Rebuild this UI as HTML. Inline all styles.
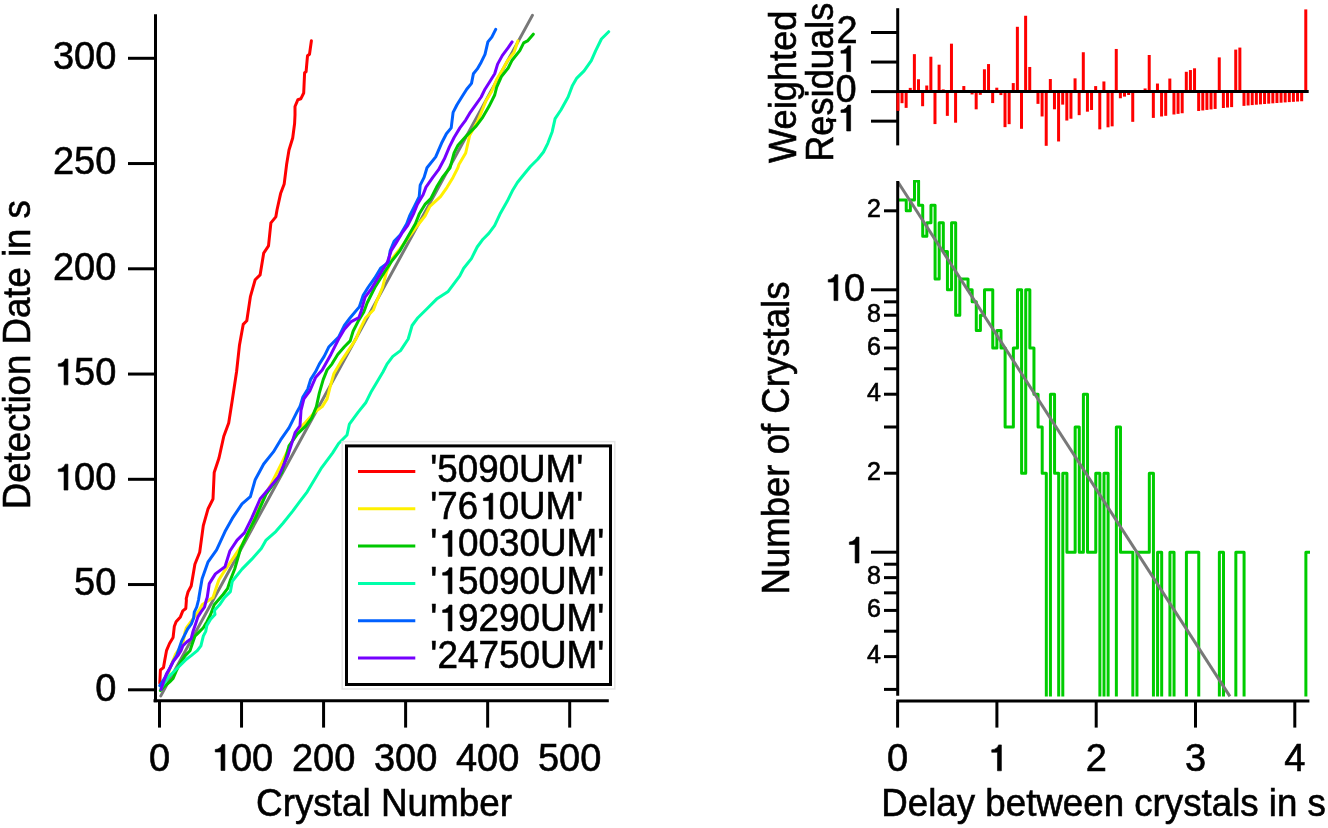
<!DOCTYPE html>
<html><head><meta charset="utf-8"><style>html,body{margin:0;padding:0;background:#fff;overflow:hidden}svg{display:block;will-change:transform} text{stroke:#000;stroke-width:0.6px} .h1{fill:none;stroke:none} .g1{stroke:#000;stroke-width:0.6px}</style></head>
<body><svg width="1328" height="828" style="font-family:'Liberation Sans',sans-serif" fill="#000">
<polyline points="160.8,695.9 532.4,15.4" fill="none" stroke="#787878" stroke-width="3" stroke-linejoin="round" stroke-linecap="round"/>
<polyline points="159.8,683.3 160.4,670.0 163.5,667.6 164.7,660.4 166.5,650.7 169.5,643.5 173.1,637.4 174.3,626.6 176.1,621.7 180.4,616.9 182.8,610.9 185.8,608.5 186.4,600.0 186.2,598.8 188.0,592.0 191.2,586.0 194.9,564.3 199.7,552.2 203.3,525.6 208.1,508.7 213.0,499.0 214.2,472.5 219.0,458.0 223.8,436.2 228.7,422.9 232.3,400.0 236.6,371.5 239.5,344.9 243.2,324.4 246.8,320.8 250.4,296.6 255.2,279.7 260.1,274.9 263.7,253.1 268.5,245.9 270.9,222.9 275.8,216.9 277.0,210.0 280.6,193.6 284.2,183.9 286.6,164.6 289.0,150.0 292.7,138.0 294.6,123.5 295.0,115.0 295.0,106.5 297.9,99.7 300.8,98.8 303.7,93.0 304.6,72.7 306.1,71.7 307.5,55.8 309.5,54.3 311.4,40.8" fill="none" stroke="#ff0000" stroke-width="3" stroke-linejoin="round" stroke-linecap="round"/>
<polyline points="162.2,684.5 167.1,677.3 170.7,666.4 175.5,654.3 182.8,643.5 185.2,631.4 186.4,627.8 192.0,620.0 199.7,609.7 202.1,604.8 209.3,600.0 213.0,597.4 215.9,588.7 218.8,580.0 222.6,573.9 232.3,559.4 242.0,544.9 251.6,525.6 261.3,501.4 271.0,484.5 283.0,460.4 297.5,430.2 300.0,427.9 305.8,422.1 314.5,412.4 322.2,406.6 327.1,398.9 330.0,387.3 333.8,373.8 340.6,362.2 348.3,350.6 356.0,339.0 359.9,329.3 365.7,317.7 373.4,310.0 376.7,301.1 382.5,287.5 386.4,272.1 392.2,258.6 399.9,248.9 408.6,237.3 417.3,225.7 425.0,216.0 429.9,206.4 440.5,196.7 447.2,187.1 453.0,177.4 457.9,167.7 458.9,164.6 465.7,153.0 469.6,135.6 477.3,122.1 482.1,110.5 486.0,100.8 491.8,91.2 496.6,79.6 502.4,69.9 507.2,61.2 514.0,52.5 517.9,40.9" fill="none" stroke="#fff000" stroke-width="3" stroke-linejoin="round" stroke-linecap="round"/>
<polyline points="160.4,690.6 163.5,687.0 169.5,682.1 173.1,678.5 176.7,670.0 180.4,662.8 185.2,655.6 190.0,650.7 192.4,643.5 194.9,636.2 198.5,632.6 203.3,627.8 206.9,621.7 210.6,614.5 214.2,604.8 223.1,594.5 227.5,588.7 230.4,580.0 234.7,569.0 240.7,548.2 249.2,530.4 255.2,518.4 266.1,494.2 281.8,472.5 289.0,445.9 297.5,433.8 305.8,425.9 311.6,418.2 316.4,406.6 319.3,393.1 323.2,379.6 327.1,369.9 331.9,364.1 337.7,354.4 344.4,346.7 350.2,340.9 353.1,331.3 358.0,321.6 363.8,311.9 367.1,303.0 374.8,287.5 384.4,272.1 392.2,260.5 399.9,250.8 407.6,237.3 415.4,223.8 419.2,214.1 425.0,204.4 430.8,198.6 436.6,187.1 442.4,177.4 450.1,167.7 454.1,152.9 458.0,145.3 466.7,135.6 476.3,125.9 482.1,118.2 488.9,106.6 494.7,95.0 496.6,87.3 501.4,76.7 508.2,68.0 512.1,60.2 519.8,50.6 523.7,42.9 527.5,40.9 533.3,34.2" fill="none" stroke="#00c800" stroke-width="3" stroke-linejoin="round" stroke-linecap="round"/>
<polyline points="161.0,688.2 164.7,682.1 169.5,676.1 175.5,670.0 181.6,664.0 186.4,659.2 191.2,655.6 197.3,650.7 200.9,645.9 203.3,636.2 205.7,631.4 206.9,625.4 210.6,619.3 215.0,614.5 214.4,610.4 220.2,603.9 224.6,597.4 230.4,591.6 232.3,581.2 242.0,569.1 251.6,559.4 261.3,548.6 266.1,540.1 275.8,531.6 283.0,523.2 292.7,511.1 299.9,501.4 307.2,491.8 314.4,479.7 321.7,467.6 332.5,453.1 338.6,443.5 347.0,435.0 349.4,424.2 358.0,412.4 365.7,402.8 371.5,391.2 377.3,381.5 383.1,371.8 387.0,364.1 392.8,356.4 400.5,350.6 408.2,339.0 412.1,325.5 417.9,317.7 427.0,308.8 436.6,299.1 448.2,291.4 454.0,283.7 459.8,275.9 463.7,268.2 471.4,258.6 477.2,247.0 483.0,239.2 488.8,233.4 494.6,225.7 500.0,214.1 507.2,201.3 513.0,189.7 517.4,182.5 523.2,175.2 530.4,166.5 537.7,159.3 543.5,152.0 547.8,143.3 552.2,131.7 555.1,118.7 560.9,110.0 568.1,97.0 572.5,85.4 576.8,78.1 584.1,70.9 591.3,60.7 595.7,50.6 601.4,39.0 608.7,31.7" fill="none" stroke="#00ffaa" stroke-width="3" stroke-linejoin="round" stroke-linecap="round"/>
<polyline points="159.8,685.7 162.2,682.1 165.9,676.1 169.5,668.8 173.1,661.6 176.7,655.6 179.2,648.3 181.6,641.1 185.2,633.8 187.6,629.0 191.2,624.2 193.6,618.1 194.3,612.1 196.7,607.2 198.5,600.0 199.9,591.6 202.1,578.7 208.1,561.8 216.6,549.8 225.0,531.6 232.3,518.4 242.0,503.9 250.4,496.6 255.2,479.7 263.7,464.0 273.4,451.9 280.6,439.9 289.0,427.8 297.5,410.9 300.0,406.6 302.9,397.0 307.7,389.2 310.6,379.6 315.5,371.8 319.3,364.1 324.2,356.4 329.0,346.7 338.6,337.1 344.4,325.5 350.2,317.7 359.3,306.9 363.2,295.3 368.0,287.5 374.8,277.9 380.6,268.2 388.3,262.4 390.2,250.8 394.1,241.2 399.9,235.4 406.7,223.8 409.6,216.0 414.4,206.4 419.2,196.7 420.2,185.1 424.1,177.4 427.0,167.7 435.7,156.9 441.5,143.3 446.4,133.7 451.2,127.9 453.1,112.4 457.0,104.7 461.8,97.0 466.7,89.2 471.5,83.4 473.4,73.8 477.3,68.9 481.2,62.2 485.0,54.4 487.9,41.9 491.8,37.1 495.7,29.3" fill="none" stroke="#0060ff" stroke-width="3" stroke-linejoin="round" stroke-linecap="round"/>
<polyline points="161.0,689.4 163.5,682.1 166.5,673.7 169.5,668.8 173.1,661.6 177.9,655.6 181.0,650.7 182.8,645.9 186.4,642.3 191.2,638.6 193.0,631.4 195.5,624.2 197.9,616.9 200.9,612.1 204.5,607.2 206.3,600.0 207.2,597.4 209.3,583.6 215.4,573.9 225.0,566.7 229.9,551.0 237.1,540.1 244.4,532.9 251.6,518.4 260.1,499.0 267.3,490.6 278.2,477.3 287.9,455.6 295.1,432.6 300.0,425.9 301.0,410.5 303.9,398.9 309.7,391.2 315.5,377.6 322.2,369.9 330.9,354.4 338.6,339.0 344.4,329.3 351.2,321.6 358.9,317.7 361.3,310.7 365.1,297.2 370.9,289.5 376.7,279.8 382.5,270.1 387.3,262.4 391.2,250.8 396.0,243.1 401.8,233.4 407.6,225.7 413.4,214.1 417.3,204.4 423.1,194.8 426.0,187.1 432.8,177.4 438.6,169.7 444.4,158.8 449.3,147.2 454.1,137.5 459.9,127.9 465.7,120.1 469.6,113.4 474.4,106.6 481.2,97.0 485.0,89.2 489.9,81.5 494.7,73.8 497.6,64.1 502.4,55.4 508.2,47.7 512.1,41.9" fill="none" stroke="#7500ff" stroke-width="3" stroke-linejoin="round" stroke-linecap="round"/>
<line x1="155.50" y1="14.20" x2="155.50" y2="702.30" stroke="#000" stroke-width="3" stroke-linecap="butt"/>
<line x1="153.50" y1="700.80" x2="608.80" y2="700.80" stroke="#000" stroke-width="3" stroke-linecap="butt"/>
<line x1="128.00" y1="689.80" x2="155.00" y2="689.80" stroke="#000" stroke-width="3" stroke-linecap="butt"/>
<text x="116.30" y="700.60" font-size="38" text-anchor="end">0</text>
<line x1="128.00" y1="584.55" x2="155.00" y2="584.55" stroke="#000" stroke-width="3" stroke-linecap="butt"/>
<text x="116.30" y="595.35" font-size="38" text-anchor="end">50</text>
<line x1="128.00" y1="479.30" x2="155.00" y2="479.30" stroke="#000" stroke-width="3" stroke-linecap="butt"/>
<text x="116.30" y="490.10" font-size="38" text-anchor="end"><tspan class="h1">1</tspan>00</text>
<line x1="128.00" y1="374.05" x2="155.00" y2="374.05" stroke="#000" stroke-width="3" stroke-linecap="butt"/>
<text x="116.30" y="384.85" font-size="38" text-anchor="end"><tspan class="h1">1</tspan>50</text>
<line x1="128.00" y1="268.80" x2="155.00" y2="268.80" stroke="#000" stroke-width="3" stroke-linecap="butt"/>
<text x="116.30" y="279.60" font-size="38" text-anchor="end">200</text>
<line x1="128.00" y1="163.55" x2="155.00" y2="163.55" stroke="#000" stroke-width="3" stroke-linecap="butt"/>
<text x="116.30" y="174.35" font-size="38" text-anchor="end">250</text>
<line x1="128.00" y1="58.30" x2="155.00" y2="58.30" stroke="#000" stroke-width="3" stroke-linecap="butt"/>
<text x="116.30" y="69.10" font-size="38" text-anchor="end">300</text>
<line x1="159.50" y1="702.00" x2="159.50" y2="727.60" stroke="#000" stroke-width="3" stroke-linecap="butt"/>
<text x="159.50" y="770.50" font-size="38" text-anchor="middle">0</text>
<line x1="241.54" y1="702.00" x2="241.54" y2="727.60" stroke="#000" stroke-width="3" stroke-linecap="butt"/>
<text x="241.54" y="770.50" font-size="38" text-anchor="middle"><tspan class="h1">1</tspan>00</text>
<line x1="323.58" y1="702.00" x2="323.58" y2="727.60" stroke="#000" stroke-width="3" stroke-linecap="butt"/>
<text x="323.58" y="770.50" font-size="38" text-anchor="middle">200</text>
<line x1="405.62" y1="702.00" x2="405.62" y2="727.60" stroke="#000" stroke-width="3" stroke-linecap="butt"/>
<text x="405.62" y="770.50" font-size="38" text-anchor="middle">300</text>
<line x1="487.66" y1="702.00" x2="487.66" y2="727.60" stroke="#000" stroke-width="3" stroke-linecap="butt"/>
<text x="487.66" y="770.50" font-size="38" text-anchor="middle">400</text>
<line x1="569.70" y1="702.00" x2="569.70" y2="727.60" stroke="#000" stroke-width="3" stroke-linecap="butt"/>
<text x="569.70" y="770.50" font-size="38" text-anchor="middle">500</text>
<rect x="342.2" y="441.6" width="272.6" height="247.4" fill="none" stroke="#e6e6e6" stroke-width="1.5"/>
<rect x="346.5" y="445.9" width="264" height="238.6" fill="#fff" stroke="#000" stroke-width="3"/>
<line x1="358.00" y1="471.50" x2="415.30" y2="471.50" stroke="#ff0000" stroke-width="3" stroke-linecap="butt"/>
<line x1="358.00" y1="508.80" x2="415.30" y2="508.80" stroke="#fff000" stroke-width="3" stroke-linecap="butt"/>
<line x1="358.00" y1="546.10" x2="415.30" y2="546.10" stroke="#00c800" stroke-width="3" stroke-linecap="butt"/>
<line x1="358.00" y1="583.40" x2="415.30" y2="583.40" stroke="#00ffaa" stroke-width="3" stroke-linecap="butt"/>
<line x1="358.00" y1="620.70" x2="415.30" y2="620.70" stroke="#0060ff" stroke-width="3" stroke-linecap="butt"/>
<line x1="358.00" y1="658.00" x2="415.30" y2="658.00" stroke="#7500ff" stroke-width="3" stroke-linecap="butt"/>
<line x1="897.70" y1="8.20" x2="897.70" y2="145.40" stroke="#000" stroke-width="3" stroke-linecap="butt"/>
<rect x="896.40" y="91.60" width="3" height="19.26" fill="#ff0000"/>
<rect x="900.52" y="91.60" width="3" height="11.59" fill="#ff0000"/>
<rect x="904.64" y="91.60" width="3" height="16.27" fill="#ff0000"/>
<rect x="908.76" y="87.88" width="3" height="3.72" fill="#ff0000"/>
<rect x="912.88" y="54.14" width="3" height="37.46" fill="#ff0000"/>
<rect x="917.00" y="79.26" width="3" height="12.34" fill="#ff0000"/>
<rect x="921.12" y="91.60" width="3" height="14.62" fill="#ff0000"/>
<rect x="925.24" y="85.51" width="3" height="6.09" fill="#ff0000"/>
<rect x="929.36" y="56.72" width="3" height="34.88" fill="#ff0000"/>
<rect x="933.48" y="91.60" width="3" height="32.48" fill="#ff0000"/>
<rect x="937.60" y="64.69" width="3" height="26.91" fill="#ff0000"/>
<rect x="941.72" y="89.39" width="3" height="2.21" fill="#ff0000"/>
<rect x="945.84" y="91.60" width="3" height="24.26" fill="#ff0000"/>
<rect x="949.96" y="43.67" width="3" height="47.93" fill="#ff0000"/>
<rect x="954.08" y="91.60" width="3" height="31.10" fill="#ff0000"/>
<rect x="958.20" y="91.45" width="3" height="0.15" fill="#ff0000"/>
<rect x="962.32" y="86.04" width="3" height="5.56" fill="#ff0000"/>
<rect x="966.44" y="89.98" width="3" height="1.62" fill="#ff0000"/>
<rect x="970.56" y="91.60" width="3" height="2.84" fill="#ff0000"/>
<rect x="974.68" y="91.60" width="3" height="17.73" fill="#ff0000"/>
<rect x="978.80" y="91.60" width="3" height="3.22" fill="#ff0000"/>
<rect x="982.92" y="69.28" width="3" height="22.32" fill="#ff0000"/>
<rect x="987.04" y="64.07" width="3" height="27.53" fill="#ff0000"/>
<rect x="991.16" y="91.60" width="3" height="11.48" fill="#ff0000"/>
<rect x="995.28" y="87.70" width="3" height="3.90" fill="#ff0000"/>
<rect x="999.40" y="91.60" width="3" height="3.47" fill="#ff0000"/>
<rect x="1003.52" y="91.60" width="3" height="35.54" fill="#ff0000"/>
<rect x="1007.64" y="91.60" width="3" height="32.56" fill="#ff0000"/>
<rect x="1011.76" y="83.07" width="3" height="8.53" fill="#ff0000"/>
<rect x="1015.88" y="26.80" width="3" height="64.80" fill="#ff0000"/>
<rect x="1020.00" y="91.60" width="3" height="37.19" fill="#ff0000"/>
<rect x="1024.12" y="15.76" width="3" height="75.84" fill="#ff0000"/>
<rect x="1028.24" y="66.97" width="3" height="24.63" fill="#ff0000"/>
<rect x="1032.36" y="91.60" width="3" height="0.51" fill="#ff0000"/>
<rect x="1036.48" y="91.60" width="3" height="12.26" fill="#ff0000"/>
<rect x="1040.60" y="91.60" width="3" height="24.86" fill="#ff0000"/>
<rect x="1044.72" y="91.60" width="3" height="54.21" fill="#ff0000"/>
<rect x="1048.84" y="79.03" width="3" height="12.57" fill="#ff0000"/>
<rect x="1052.96" y="91.60" width="3" height="17.71" fill="#ff0000"/>
<rect x="1057.08" y="91.60" width="3" height="49.87" fill="#ff0000"/>
<rect x="1061.20" y="91.60" width="3" height="13.02" fill="#ff0000"/>
<rect x="1065.32" y="91.60" width="3" height="28.93" fill="#ff0000"/>
<rect x="1069.44" y="91.60" width="3" height="27.12" fill="#ff0000"/>
<rect x="1073.56" y="78.35" width="3" height="13.25" fill="#ff0000"/>
<rect x="1077.68" y="91.60" width="3" height="23.56" fill="#ff0000"/>
<rect x="1081.80" y="52.24" width="3" height="39.36" fill="#ff0000"/>
<rect x="1085.92" y="91.60" width="3" height="20.08" fill="#ff0000"/>
<rect x="1090.04" y="91.60" width="3" height="18.36" fill="#ff0000"/>
<rect x="1094.16" y="86.09" width="3" height="5.51" fill="#ff0000"/>
<rect x="1098.28" y="91.60" width="3" height="37.76" fill="#ff0000"/>
<rect x="1102.40" y="81.46" width="3" height="10.14" fill="#ff0000"/>
<rect x="1106.52" y="91.60" width="3" height="35.72" fill="#ff0000"/>
<rect x="1110.64" y="91.60" width="3" height="34.74" fill="#ff0000"/>
<rect x="1114.76" y="48.96" width="3" height="42.64" fill="#ff0000"/>
<rect x="1118.88" y="91.60" width="3" height="6.67" fill="#ff0000"/>
<rect x="1123.00" y="91.60" width="3" height="5.02" fill="#ff0000"/>
<rect x="1127.12" y="91.60" width="3" height="3.39" fill="#ff0000"/>
<rect x="1131.24" y="91.60" width="3" height="30.23" fill="#ff0000"/>
<rect x="1135.36" y="91.60" width="3" height="0.12" fill="#ff0000"/>
<rect x="1139.48" y="90.09" width="3" height="1.51" fill="#ff0000"/>
<rect x="1143.60" y="88.46" width="3" height="3.14" fill="#ff0000"/>
<rect x="1147.72" y="55.00" width="3" height="36.60" fill="#ff0000"/>
<rect x="1151.84" y="91.60" width="3" height="26.30" fill="#ff0000"/>
<rect x="1155.96" y="83.54" width="3" height="8.06" fill="#ff0000"/>
<rect x="1160.08" y="91.60" width="3" height="24.88" fill="#ff0000"/>
<rect x="1164.20" y="91.60" width="3" height="24.20" fill="#ff0000"/>
<rect x="1168.32" y="78.56" width="3" height="13.04" fill="#ff0000"/>
<rect x="1172.44" y="91.60" width="3" height="22.89" fill="#ff0000"/>
<rect x="1176.56" y="91.60" width="3" height="22.26" fill="#ff0000"/>
<rect x="1180.68" y="91.60" width="3" height="21.65" fill="#ff0000"/>
<rect x="1184.80" y="71.78" width="3" height="19.82" fill="#ff0000"/>
<rect x="1188.92" y="70.05" width="3" height="21.55" fill="#ff0000"/>
<rect x="1193.04" y="68.30" width="3" height="23.30" fill="#ff0000"/>
<rect x="1197.16" y="91.60" width="3" height="19.37" fill="#ff0000"/>
<rect x="1201.28" y="91.60" width="3" height="18.84" fill="#ff0000"/>
<rect x="1205.40" y="91.60" width="3" height="18.32" fill="#ff0000"/>
<rect x="1209.52" y="91.60" width="3" height="17.82" fill="#ff0000"/>
<rect x="1213.64" y="91.60" width="3" height="17.33" fill="#ff0000"/>
<rect x="1217.76" y="57.39" width="3" height="34.21" fill="#ff0000"/>
<rect x="1221.88" y="91.60" width="3" height="16.39" fill="#ff0000"/>
<rect x="1226.00" y="91.60" width="3" height="15.94" fill="#ff0000"/>
<rect x="1230.12" y="91.60" width="3" height="15.51" fill="#ff0000"/>
<rect x="1234.24" y="49.60" width="3" height="42.00" fill="#ff0000"/>
<rect x="1238.36" y="47.58" width="3" height="44.02" fill="#ff0000"/>
<rect x="1242.48" y="91.60" width="3" height="14.26" fill="#ff0000"/>
<rect x="1246.60" y="91.60" width="3" height="13.87" fill="#ff0000"/>
<rect x="1250.72" y="91.60" width="3" height="13.49" fill="#ff0000"/>
<rect x="1254.84" y="91.60" width="3" height="13.12" fill="#ff0000"/>
<rect x="1258.96" y="91.60" width="3" height="12.76" fill="#ff0000"/>
<rect x="1263.08" y="91.60" width="3" height="12.41" fill="#ff0000"/>
<rect x="1267.20" y="91.60" width="3" height="12.07" fill="#ff0000"/>
<rect x="1271.32" y="91.60" width="3" height="11.74" fill="#ff0000"/>
<rect x="1275.44" y="91.60" width="3" height="11.42" fill="#ff0000"/>
<rect x="1279.56" y="91.60" width="3" height="11.10" fill="#ff0000"/>
<rect x="1283.68" y="91.60" width="3" height="10.80" fill="#ff0000"/>
<rect x="1287.80" y="91.60" width="3" height="10.50" fill="#ff0000"/>
<rect x="1291.92" y="91.60" width="3" height="10.22" fill="#ff0000"/>
<rect x="1296.04" y="91.60" width="3" height="9.94" fill="#ff0000"/>
<rect x="1300.16" y="91.60" width="3" height="9.66" fill="#ff0000"/>
<rect x="1304.28" y="9.41" width="3" height="82.19" fill="#ff0000"/>
<line x1="871.00" y1="32.50" x2="897.00" y2="32.50" stroke="#000" stroke-width="3" stroke-linecap="butt"/>
<line x1="871.00" y1="62.05" x2="897.00" y2="62.05" stroke="#000" stroke-width="3" stroke-linecap="butt"/>
<line x1="871.00" y1="91.60" x2="897.00" y2="91.60" stroke="#000" stroke-width="3" stroke-linecap="butt"/>
<line x1="871.00" y1="121.15" x2="897.00" y2="121.15" stroke="#000" stroke-width="3" stroke-linecap="butt"/>
<text x="857.60" y="42.50" font-size="38" text-anchor="end">2</text>
<text x="856.70" y="71.70" font-size="38" text-anchor="end"><tspan class="h1">1</tspan></text>
<text x="856.70" y="102.40" font-size="38" text-anchor="end">0</text>
<text x="856.70" y="131.00" font-size="38" text-anchor="end"><tspan class="h1">1</tspan></text>
<line x1="826.00" y1="120.40" x2="836.20" y2="120.40" stroke="#000" stroke-width="3" stroke-linecap="butt"/>
<line x1="897.00" y1="91.60" x2="1308.70" y2="91.60" stroke="#000" stroke-width="3" stroke-linecap="butt"/>
<defs><clipPath id="hc"><rect x="897" y="180" width="414" height="516.6"/></clipPath></defs>
<path d="M898.00,199.95 H902.12 V199.95 H906.24 V210.81 H910.36 V199.95 H914.48 V180.91 H918.60 V205.25 H922.72 V236.24 H926.84 V222.82 H930.96 V205.25 H935.08 V278.94 H939.20 V222.82 H943.32 V251.46 H947.44 V289.80 H951.56 V222.82 H955.68 V315.23 H959.80 V278.94 H963.92 V278.94 H968.04 V289.80 H972.16 V301.81 H976.28 V330.45 H980.40 V315.23 H984.52 V289.80 H988.64 V289.80 H992.76 V348.01 H996.88 V330.45 H1001.00 V348.01 H1005.12 V427.00 H1009.24 V427.00 H1013.36 V348.01 H1017.48 V289.80 H1021.60 V473.21 H1025.72 V289.80 H1029.84 V348.01 H1033.96 V394.22 H1038.08 V427.00 H1042.20 V473.21 H1046.32 V760.00 H1050.44 V394.22 H1054.56 V473.21 H1058.68 V760.00 H1062.80 V473.21 H1066.92 V552.20 H1071.04 V552.20 H1075.16 V427.00 H1079.28 V552.20 H1083.40 V394.22 H1087.52 V552.20 H1091.64 V552.20 H1095.76 V473.21 H1099.88 V760.00 H1104.00 V473.21 H1108.12 V760.00 H1112.24 V760.00 H1116.36 V427.00 H1120.48 V552.20 H1124.60 V552.20 H1128.72 V552.20 H1132.84 V760.00 H1136.96 V552.20 H1141.08 V552.20 H1145.20 V552.20 H1149.32 V473.21 H1153.44 V760.00 H1157.56 V552.20 H1161.68 V760.00 H1165.80 V760.00 H1169.92 V552.20 H1174.04 V760.00 H1178.16 V760.00 H1182.28 V760.00 H1186.40 V552.20 H1190.52 V552.20 H1194.64 V552.20 H1198.76 V760.00 H1202.88 V760.00 H1207.00 V760.00 H1211.12 V760.00 H1215.24 V760.00 H1219.36 V552.20 H1223.48 V760.00 H1227.60 V760.00 H1231.72 V760.00 H1235.84 V552.20 H1239.96 V552.20 H1244.08 V760.00 H1248.20 V760.00 H1252.32 V760.00 H1256.44 V760.00 H1260.56 V760.00 H1264.68 V760.00 H1268.80 V760.00 H1272.92 V760.00 H1277.04 V760.00 H1281.16 V760.00 H1285.28 V760.00 H1289.40 V760.00 H1293.52 V760.00 H1297.64 V760.00 H1301.76 V760.00 H1305.88 V552.20 H1310.00" fill="none" stroke="#00cc00" stroke-width="3" stroke-linejoin="round" clip-path="url(#hc)"/>
<line x1="898.10" y1="182.20" x2="1229.90" y2="696.40" stroke="#787878" stroke-width="3" stroke-linecap="butt"/>
<line x1="897.70" y1="180.90" x2="897.70" y2="695.80" stroke="#000" stroke-width="3" stroke-linecap="butt"/>
<line x1="896.20" y1="701.00" x2="1309.40" y2="701.00" stroke="#000" stroke-width="3" stroke-linecap="butt"/>
<line x1="884.00" y1="689.40" x2="897.00" y2="689.40" stroke="#000" stroke-width="3" stroke-linecap="butt"/>
<line x1="884.00" y1="656.62" x2="897.00" y2="656.62" stroke="#000" stroke-width="3" stroke-linecap="butt"/>
<line x1="884.00" y1="631.19" x2="897.00" y2="631.19" stroke="#000" stroke-width="3" stroke-linecap="butt"/>
<line x1="884.00" y1="610.41" x2="897.00" y2="610.41" stroke="#000" stroke-width="3" stroke-linecap="butt"/>
<line x1="884.00" y1="592.85" x2="897.00" y2="592.85" stroke="#000" stroke-width="3" stroke-linecap="butt"/>
<line x1="884.00" y1="577.63" x2="897.00" y2="577.63" stroke="#000" stroke-width="3" stroke-linecap="butt"/>
<line x1="884.00" y1="564.21" x2="897.00" y2="564.21" stroke="#000" stroke-width="3" stroke-linecap="butt"/>
<line x1="871.00" y1="552.20" x2="897.00" y2="552.20" stroke="#000" stroke-width="3" stroke-linecap="butt"/>
<line x1="884.00" y1="473.21" x2="897.00" y2="473.21" stroke="#000" stroke-width="3" stroke-linecap="butt"/>
<line x1="884.00" y1="427.00" x2="897.00" y2="427.00" stroke="#000" stroke-width="3" stroke-linecap="butt"/>
<line x1="884.00" y1="394.22" x2="897.00" y2="394.22" stroke="#000" stroke-width="3" stroke-linecap="butt"/>
<line x1="884.00" y1="368.79" x2="897.00" y2="368.79" stroke="#000" stroke-width="3" stroke-linecap="butt"/>
<line x1="884.00" y1="348.01" x2="897.00" y2="348.01" stroke="#000" stroke-width="3" stroke-linecap="butt"/>
<line x1="884.00" y1="330.45" x2="897.00" y2="330.45" stroke="#000" stroke-width="3" stroke-linecap="butt"/>
<line x1="884.00" y1="315.23" x2="897.00" y2="315.23" stroke="#000" stroke-width="3" stroke-linecap="butt"/>
<line x1="884.00" y1="301.81" x2="897.00" y2="301.81" stroke="#000" stroke-width="3" stroke-linecap="butt"/>
<line x1="871.00" y1="289.80" x2="897.00" y2="289.80" stroke="#000" stroke-width="3" stroke-linecap="butt"/>
<line x1="884.00" y1="210.81" x2="897.00" y2="210.81" stroke="#000" stroke-width="3" stroke-linecap="butt"/>
<text x="880.80" y="217.41" font-size="25" text-anchor="end">2</text>
<text x="865.10" y="300.60" font-size="38" text-anchor="end"><tspan class="h1">1</tspan>0</text>
<text x="880.80" y="321.83" font-size="25" text-anchor="end">8</text>
<text x="880.80" y="354.61" font-size="25" text-anchor="end">6</text>
<text x="880.80" y="400.82" font-size="25" text-anchor="end">4</text>
<text x="880.80" y="479.81" font-size="25" text-anchor="end">2</text>
<text x="865.10" y="563.00" font-size="38" text-anchor="end"><tspan class="h1">1</tspan></text>
<text x="880.80" y="584.23" font-size="25" text-anchor="end">8</text>
<text x="880.80" y="617.01" font-size="25" text-anchor="end">6</text>
<text x="880.80" y="663.22" font-size="25" text-anchor="end">4</text>
<line x1="897.60" y1="702.00" x2="897.60" y2="727.60" stroke="#000" stroke-width="3" stroke-linecap="butt"/>
<text x="897.60" y="770.80" font-size="38" text-anchor="middle">0</text>
<line x1="996.90" y1="702.00" x2="996.90" y2="727.60" stroke="#000" stroke-width="3" stroke-linecap="butt"/>
<text x="996.90" y="770.80" font-size="38" text-anchor="middle"><tspan class="h1">1</tspan></text>
<line x1="1096.20" y1="702.00" x2="1096.20" y2="727.60" stroke="#000" stroke-width="3" stroke-linecap="butt"/>
<text x="1096.20" y="770.80" font-size="38" text-anchor="middle">2</text>
<line x1="1195.50" y1="702.00" x2="1195.50" y2="727.60" stroke="#000" stroke-width="3" stroke-linecap="butt"/>
<text x="1195.50" y="770.80" font-size="38" text-anchor="middle">3</text>
<line x1="1294.80" y1="702.00" x2="1294.80" y2="727.60" stroke="#000" stroke-width="3" stroke-linecap="butt"/>
<text x="1294.80" y="770.80" font-size="38" text-anchor="middle">4</text>
<text x="256.06" y="816.30" font-size="38" textLength="255.86" lengthAdjust="spacingAndGlyphs">Crystal Number</text>
<text x="29.60" y="509.29" font-size="38" textLength="309.21" lengthAdjust="spacingAndGlyphs" transform="rotate(-90 29.60 509.29)">Detection Date in s</text>
<text x="430.37" y="481.90" font-size="38" textLength="152.82" lengthAdjust="spacingAndGlyphs">&#39;5090UM&#39;</text>
<text x="430.37" y="519.16" font-size="38" textLength="152.82" lengthAdjust="spacingAndGlyphs">&#39;76<tspan class="h1">1</tspan>0UM&#39;</text>
<text x="430.36" y="556.42" font-size="38" textLength="173.95" lengthAdjust="spacingAndGlyphs">&#39;<tspan class="h1">1</tspan>0030UM&#39;</text>
<text x="430.36" y="593.68" font-size="38" textLength="173.95" lengthAdjust="spacingAndGlyphs">&#39;<tspan class="h1">1</tspan>5090UM&#39;</text>
<text x="430.36" y="630.94" font-size="38" textLength="173.95" lengthAdjust="spacingAndGlyphs">&#39;<tspan class="h1">1</tspan>9290UM&#39;</text>
<text x="430.36" y="668.20" font-size="38" textLength="173.95" lengthAdjust="spacingAndGlyphs">&#39;24750UM&#39;</text>
<text x="796.00" y="163.00" font-size="38" textLength="152.47" lengthAdjust="spacingAndGlyphs" transform="rotate(-90 796.00 163.00)">Weighted</text>
<text x="832.90" y="161.86" font-size="38" textLength="159.15" lengthAdjust="spacingAndGlyphs" transform="rotate(-90 832.90 161.86)">Residuals</text>
<text x="881.30" y="816.40" font-size="38" textLength="444.67" lengthAdjust="spacingAndGlyphs">Delay between crystals in s</text>
<text x="789.00" y="594.59" font-size="38" textLength="313.05" lengthAdjust="spacingAndGlyphs" transform="rotate(-90 789.00 594.59)">Number of Crystals</text>
<path class="g1" vector-effect="non-scaling-stroke" d="M0.396,0 L0.396,-0.682 L0.322,-0.682 C0.305,-0.61 0.245,-0.562 0.142,-0.553 L0.142,-0.487 L0.293,-0.487 L0.293,0 Z" transform="translate(52.88,490.10) scale(38.023,38.000)"/>
<path class="g1" vector-effect="non-scaling-stroke" d="M0.396,0 L0.396,-0.682 L0.322,-0.682 C0.305,-0.61 0.245,-0.562 0.142,-0.553 L0.142,-0.487 L0.293,-0.487 L0.293,0 Z" transform="translate(52.88,384.85) scale(38.023,38.000)"/>
<path class="g1" vector-effect="non-scaling-stroke" d="M0.396,0 L0.396,-0.682 L0.322,-0.682 C0.305,-0.61 0.245,-0.562 0.142,-0.553 L0.142,-0.487 L0.293,-0.487 L0.293,0 Z" transform="translate(209.83,770.50) scale(38.023,38.000)"/>
<path class="g1" vector-effect="non-scaling-stroke" d="M0.396,0 L0.396,-0.682 L0.322,-0.682 C0.305,-0.61 0.245,-0.562 0.142,-0.553 L0.142,-0.487 L0.293,-0.487 L0.293,0 Z" transform="translate(835.56,71.70) scale(38.023,38.000)"/>
<path class="g1" vector-effect="non-scaling-stroke" d="M0.396,0 L0.396,-0.682 L0.322,-0.682 C0.305,-0.61 0.245,-0.562 0.142,-0.553 L0.142,-0.487 L0.293,-0.487 L0.293,0 Z" transform="translate(835.56,131.00) scale(38.023,38.000)"/>
<path class="g1" vector-effect="non-scaling-stroke" d="M0.396,0 L0.396,-0.682 L0.322,-0.682 C0.305,-0.61 0.245,-0.562 0.142,-0.553 L0.142,-0.487 L0.293,-0.487 L0.293,0 Z" transform="translate(822.82,300.60) scale(38.023,38.000)"/>
<path class="g1" vector-effect="non-scaling-stroke" d="M0.396,0 L0.396,-0.682 L0.322,-0.682 C0.305,-0.61 0.245,-0.562 0.142,-0.553 L0.142,-0.487 L0.293,-0.487 L0.293,0 Z" transform="translate(843.96,563.00) scale(38.023,38.000)"/>
<path class="g1" vector-effect="non-scaling-stroke" d="M0.396,0 L0.396,-0.682 L0.322,-0.682 C0.305,-0.61 0.245,-0.562 0.142,-0.553 L0.142,-0.487 L0.293,-0.487 L0.293,0 Z" transform="translate(986.33,770.80) scale(38.023,38.000)"/>
<path class="g1" vector-effect="non-scaling-stroke" d="M0.396,0 L0.396,-0.682 L0.322,-0.682 C0.305,-0.61 0.245,-0.562 0.142,-0.553 L0.142,-0.487 L0.293,-0.487 L0.293,0 Z" transform="translate(478.23,519.16) scale(36.736,38.000)"/>
<path class="g1" vector-effect="non-scaling-stroke" d="M0.396,0 L0.396,-0.682 L0.322,-0.682 C0.305,-0.61 0.245,-0.562 0.142,-0.553 L0.142,-0.487 L0.293,-0.487 L0.293,0 Z" transform="translate(437.41,556.42) scale(36.889,38.000)"/>
<path class="g1" vector-effect="non-scaling-stroke" d="M0.396,0 L0.396,-0.682 L0.322,-0.682 C0.305,-0.61 0.245,-0.562 0.142,-0.553 L0.142,-0.487 L0.293,-0.487 L0.293,0 Z" transform="translate(437.41,593.68) scale(36.889,38.000)"/>
<path class="g1" vector-effect="non-scaling-stroke" d="M0.396,0 L0.396,-0.682 L0.322,-0.682 C0.305,-0.61 0.245,-0.562 0.142,-0.553 L0.142,-0.487 L0.293,-0.487 L0.293,0 Z" transform="translate(437.41,630.94) scale(36.889,38.000)"/>
</svg></body></html>
